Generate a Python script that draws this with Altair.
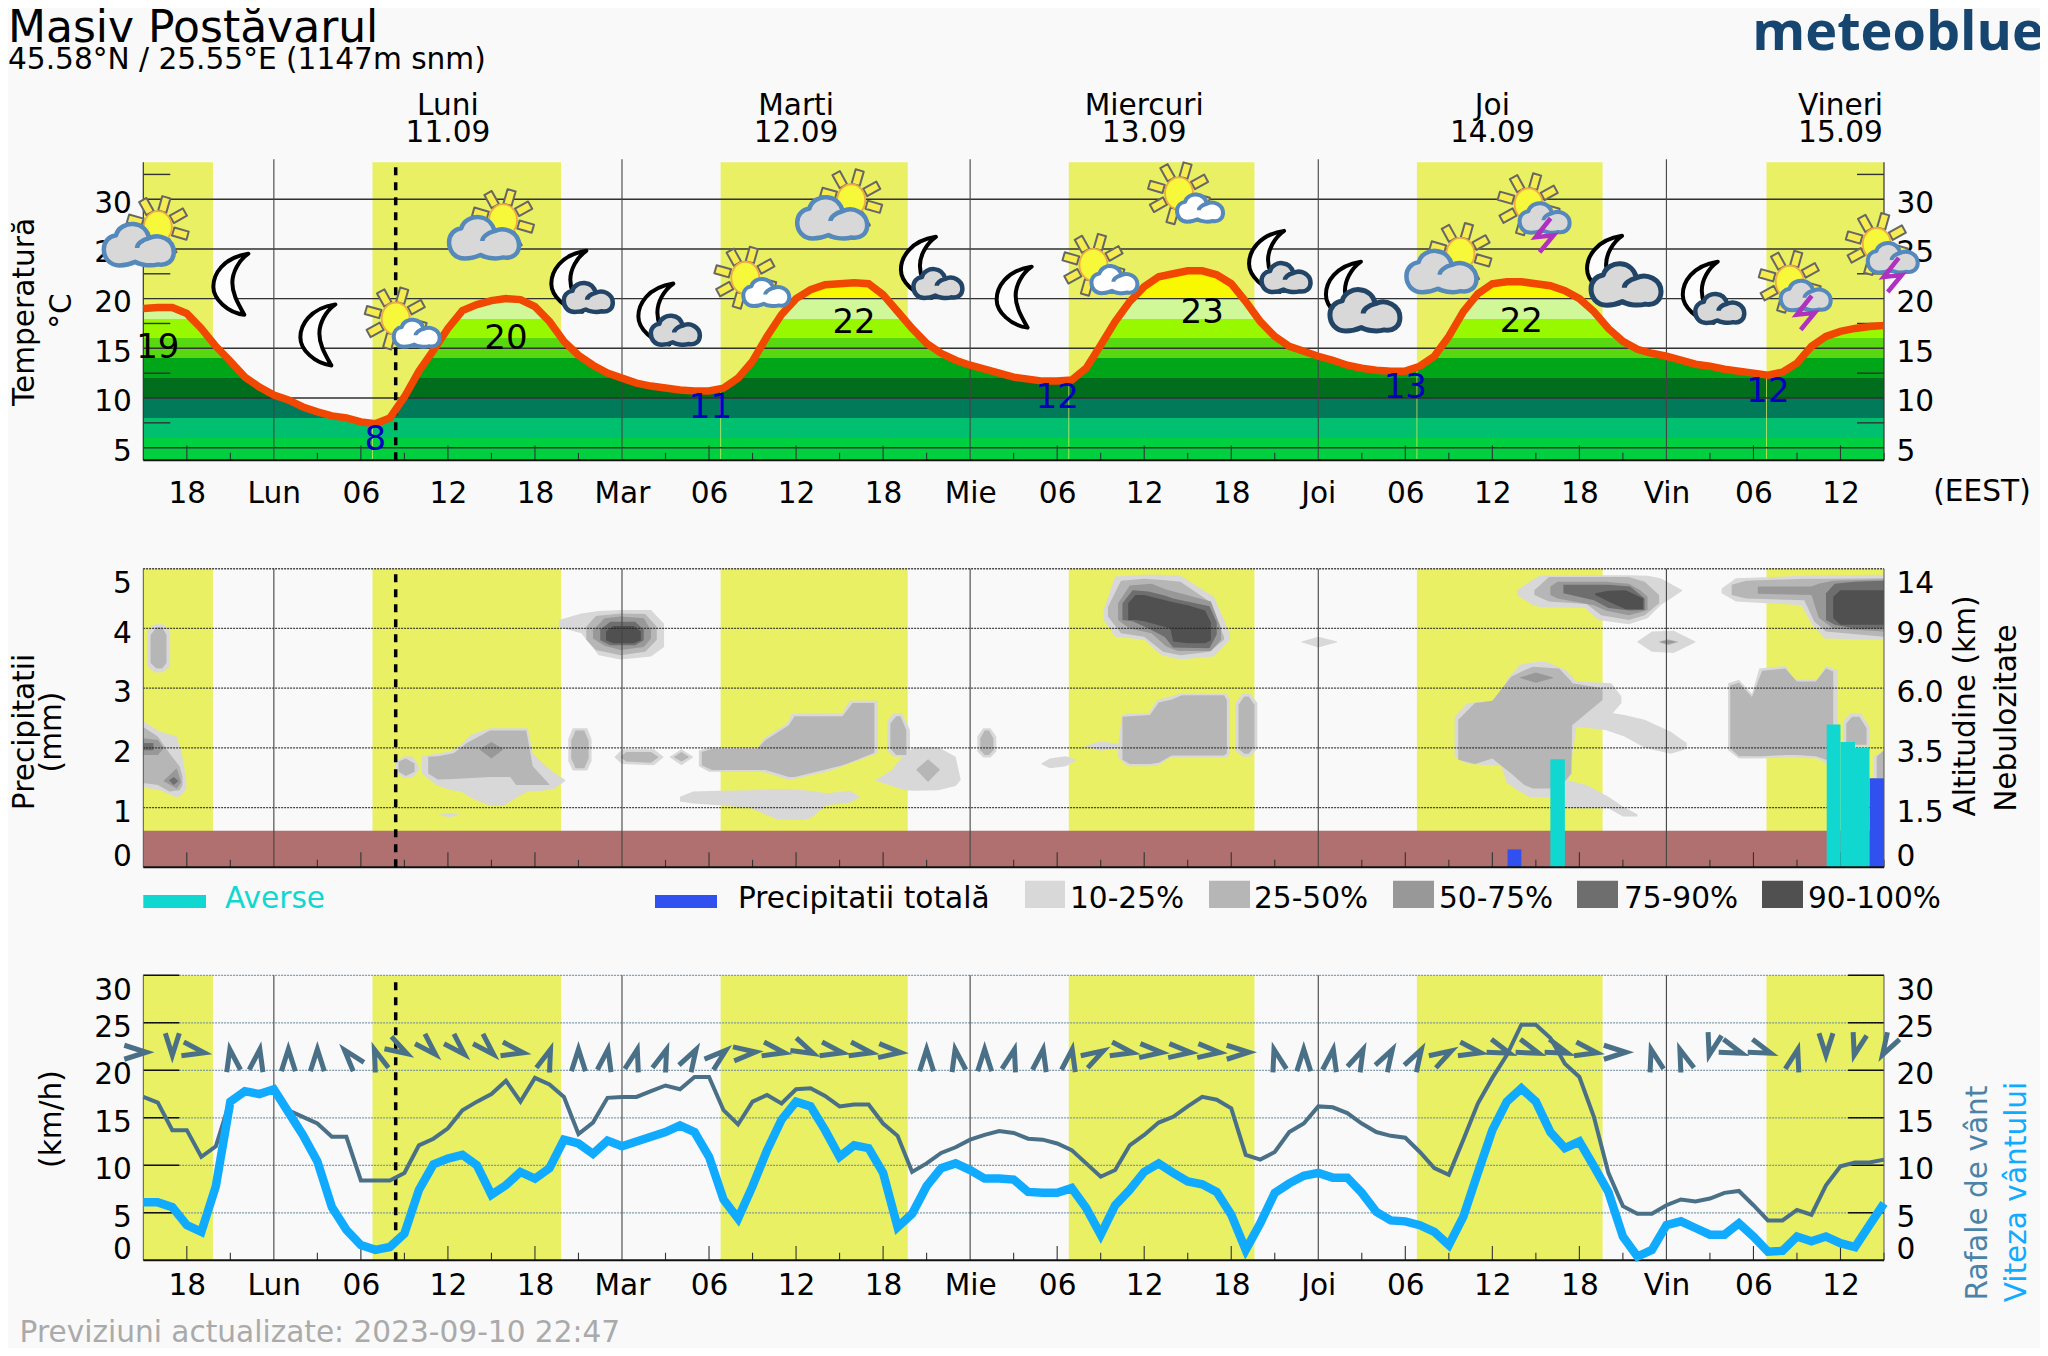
import json
import altair as alt
import pandas as pd

FONT = "DejaVu Sans"
BG = "#f9f9f9"
YELLOW = "#e9f064"
FS = 29.6

# ------------------------------------------------------------------ data
HOURS = list(range(-9, 112))
TEMP = [19.0,19.1,19.1,18.5,17,15.2,13.7,12.1,11.1,10.3,
        9.8,9.1,8.6,8.2,8,7.6,7.4,8,10.1,12.7,
        14.8,17,18.8,19.4,19.8,20,19.9,19.2,17.7,15.7,
        14.3,13.3,12.5,12,11.5,11.2,11,10.8,10.7,10.7,
        11,12,13.7,16.2,18.4,20,20.9,21.4,21.5,21.6,
        21.5,20.4,18.7,17,15.5,14.5,13.8,13.3,12.9,12.5,
        12.1,11.9,11.7,11.7,11.8,13,15.3,17.7,19.7,21.2,
        22.2,22.5,22.8,22.8,22.4,21.5,19.7,17.7,16.2,15.2,
        14.7,14.2,13.8,13.3,13,12.8,12.7,12.7,13.2,14.2,
        16.2,18.7,20.5,21.5,21.7,21.7,21.5,21.3,20.8,20,
        18.7,17,15.7,14.9,14.5,14.2,13.8,13.4,13.2,12.9,
        12.7,12.5,12.3,12.6,13.5,15.2,16.2,16.7,17,17.2,17.3]
GUST = [17.2,16.6,13.7,13.7,10.9,12,16.9,17.9,17.6,18,
        15.8,15.1,14.4,13,13,8.4,8.4,8.4,9.2,12.1,
        12.8,13.9,15.8,16.7,17.5,18.9,16.7,19.2,18.5,17.2,
        13.3,14.5,17.1,17.2,17.2,17.8,18.4,18,19.3,19.3,
        15.8,14.3,16.7,17.4,16.5,18,18.1,17.3,16.2,16.4,
        16.4,14.4,13.1,9.3,10.2,11.3,11.9,12.7,13.2,13.6,
        13.4,12.8,12.7,12.3,11.6,10.2,8.8,9.5,12.1,13.2,
        14.5,15.1,16.2,17.2,16.9,16,11.1,10.6,11.4,13.5,
        14.4,16.2,16.1,15.5,14.4,13.5,13.1,12.9,11.4,9.7,
        9,12.7,16.5,19.2,21.6,24.8,24.8,23.4,20.7,19.3,
        15.1,9.2,5.7,4.9,4.9,5.8,6.4,6.2,6.5,7.1,
        7.3,5.8,4.2,4.2,5.3,4.8,7.9,9.9,10.3,10.3,10.6]
WIND = [6.1,6.1,5.6,3.7,3,7.8,16.7,17.8,17.5,18,
        15.6,13.2,10.4,5.6,3.2,1.6,1.1,1.4,2.8,7.4,
        10.1,10.7,11.1,10,6.9,7.9,9.3,8.6,9.7,12.7,
        12.3,11.2,12.6,12,12.5,13,13.5,14.2,13.5,10.9,
        6.4,4.4,7.8,11.6,14.8,16.7,16.2,13.7,10.9,12.1,
        11.8,9.2,3.5,4.9,7.8,9.7,10.2,9.5,8.6,8.6,
        8.5,7.2,7.1,7.1,7.6,5.5,2.7,5.8,7.4,9.3,
        10.2,9.2,8.3,8,7.2,4.8,1.1,3.9,7.1,8.1,
        8.9,9.2,8.7,8.7,7.1,5.1,4.2,4.1,3.7,3,
        1.6,4.6,9.2,13.7,16.7,18.1,16.7,13.5,11.8,12.5,
        9.9,7.2,2.5,0.4,1.1,3.7,4.1,3.4,2.7,2.7,
        3.9,2.5,0.9,1,2.5,2,2.5,1.8,1.4,3.7,6]
ARROW_HOURS = list(range(-9, 112, 2))
ARROW_DIRS = [90,180,100,350,10,0,0,320,340,120,135,135,135,100,20,0,10,15,20,30,50,
              85,100,115,100,100,95,0,350,0,15,10,10,60,100,95,95,95,90,345,0,10,25,30,30,
              60,100,110,110,110,100,90,345,340,195,110,110,15,180,195,210]
ARROW_LEVEL = [21.9] * 61

DAY_START = [-9, 6.8, 30.8, 54.8, 78.8, 102.9]
DAY_END = [-4.2, 19.8, 43.7, 67.6, 91.6, 111]
SUNRISES = [6.8, 30.8, 54.8, 78.8, 102.9]
MIDNIGHTS = [0, 24, 48, 72, 96]
MINOR_TICKS = [h for h in range(-6, 112, 3) if h % 6]
MAJOR_TICKS = [h for h in range(-6, 112, 6) if h % 24]
NOW_HOUR = 8.4

AXIS_HOURS = list(range(-6, 112, 6))
AXIS_LABELS = ["18","Lun","06","12","18","Mar","06","12","18","Mie","06","12","18","Joi","06","12","18","Vin","06","12"]
DAY_HOURS = [12, 36, 60, 84, 108]
DAY_NAMES = ["Luni", "Marti", "Miercuri", "Joi", "Vineri"]
DAY_DATES = ["11.09", "12.09", "13.09", "14.09", "15.09"]

BAND_EDGES = [20, 18, 16, 14, 12, 10, 8, 6]
BAND_COLORS = ["#f8f800","#d0f898","#98f800","#58d810","#00a518","#006e1c","#007a58","#00c070","#00d040"]

MAX_HOURS = [-8, 16, 40, 64, 86]
MAX_POS = [15, 15.9, 17.5, 18.6, 17.6]
MAX_TEXT = ["19", "20", "22", "23", "22"]
MIN_HOURS = [7, 30.1, 54, 78, 103]
MIN_POS = [5.8, 9, 10, 11, 10.6]
MIN_TEXT = ["8", "11", "12", "13", "12"]

BIG_SUN_H = [-8, 15.8, 39.8, 81.8]
BIG_SUN_T = [27.2, 27.9, 29.9, 24.5]
SMALL_SUN_H = [8.4, 32.5, 56.5, 62.4]
SMALL_SUN_T = [18.0, 22.1, 23.4, 30.6]
STORM_H = [86.5, 104.5, 110.5]
STORM_T = [29.5, 21.7, 25.5]
MOON_H = [-3, 3, 51]
MOON_T = [21.4, 16.3, 20.1]
MOON_CLOUD_H = [20.3, 26.3, 44.4, 68.4, 98.3]
MOON_CLOUD_T = [21.7, 18.4, 23.1, 23.7, 20.6]
MOON_BIG_H = [73.7, 91.7]
MOON_BIG_T = [20.6, 23.2]

TOTAL_START = [85.05, 110]
TOTAL_END = [86, 111]
TOTAL_MM = [0.3, 1.49]
SHOWER_START = [88, 107.05, 108, 109]
SHOWER_END = [89, 108, 109, 110]
SHOWER_MM = [1.81, 2.39, 2.1, 2.0]

CLOUD_COLORS = ["#d8d8d8", "#b6b6b6", "#989898", "#6e6e6e", "#505050"]
CLOUD_LABELS = ["10-25%", "25-50%", "50-75%", "75-90%", "90-100%"]
# each blob: (hour, top, bottom) on the 0-5 panel scale
CLOUD_10 = [
 [(-8.7,3.97,3.36),(-8.2,4.07,3.26),(-7.7,4.07,3.26),(-7.15,3.97,3.36)],
 [(-9,2.44,1.34),(-7.83,2.27,1.29),(-6.7,2.19,1.17),(-6.35,1.91,1.21),(-6.03,1.46,1.32)],
 [(8.4,1.77,1.6),(9.0,1.86,1.49),(9.6,1.85,1.51),(10,1.69,1.63)],
 [(10.2,1.85,1.57),(11.2,1.9,1.38),(12.2,1.94,1.29),(12.9,2.05,1.27),(13.6,2.22,1.16),(14.9,2.33,1.03),(15.8,2.33,1.03),(16.7,2.33,1.16),(17.5,2.33,1.27),(17.85,1.91,1.27),(18.75,1.69,1.29),(19.4,1.57,1.32),(20.1,1.46,1.45)],
 [(11.4,.88,.875),(12.1,.915,.84),(12.8,.88,.875)],
 [(20.3,2.15,1.78),(20.6,2.33,1.62),(21.6,2.33,1.62),(21.9,2.15,1.78)],
 [(19.65,4.14,4.02),(21.2,4.25,3.92),(22.4,4.29,3.55),(23.9,4.31,3.48),(26,4.31,3.53),(26.9,4.08,3.69)],
 [(23.5,1.85,1.84),(24,1.975,1.73),(26.2,1.975,1.71),(26.85,1.85,1.84)],
 [(27.3,1.85,1.84),(28.1,1.975,1.71),(28.9,1.85,1.84)],
 [(29.3,1.95,1.69),(30,2.01,1.6),(33.4,2.01,1.6),(33.8,2.16,1.59),(35.4,2.41,1.47),(35.7,2.57,1.47),(38.1,2.58,1.6),(39.2,2.58,1.69),(39.7,2.79,1.74),(41.65,2.79,1.91)],
 [(42.3,2.44,1.96),(42.7,2.58,1.85),(43.3,2.58,1.85),(43.85,2.3,1.85)],
 [(41.5,1.46,1.45),(42.6,1.63,1.36),(43.5,1.91,1.29),(44.2,2.01,1.28),(45.8,2.01,1.29),(47,1.85,1.36),(47.35,1.47,1.46)],
 [(28,1.18,1.1),(28.9,1.27,1.07),(30.7,1.28,1.04),(32.9,1.29,.99),(34.7,1.31,.8),(36.5,1.29,.79),(37,1.28,.82),(38.1,1.24,1.04),(39.7,1.28,1.08),(40.4,1.18,1.17)],
 [(48.5,2.19,1.94),(48.9,2.33,1.84),(49.4,2.33,1.84),(49.8,2.19,1.94)],
 [(52.9,1.74,1.73),(53.5,1.82,1.66),(54.6,1.86,1.69),(55.3,1.8,1.79)],
 [(55.9,2.03,2.02),(57,2.11,1.95),(58.2,2.07,1.99)],
 [(58.2,2.02,1.85),(58.46,2.55,1.77),(58.9,2.57,1.69),(60.3,2.58,1.69),(60.9,2.8,1.7),(61.8,2.86,1.84),(62.5,2.91,1.84),(65.7,2.91,1.84),(65.9,2.8,1.91)],
 [(66.3,2.75,1.96),(66.8,2.91,1.85),(67.3,2.91,1.85),(67.8,2.75,1.99)],
 [(57.2,4.31,4.14),(58,4.87,3.86),(60,4.9,3.81),(61.2,4.9,3.55),(62.5,4.88,3.48),(64.8,4.53,3.53),(65.9,3.92,3.81)],
 [(70.85,3.78,3.77),(72,3.86,3.68),(73.3,3.78,3.77)],
 [(85.7,4.64,4.56),(86.8,4.82,4.39),(87.3,4.88,4.36),(90.4,4.89,4.34),(91.3,4.89,4.14),(93.4,4.89,4.07),(94.7,4.88,4.17),(95.6,4.84,4.39),(97.1,4.64,4.63)],
 [(94,3.78,3.77),(95,3.95,3.61),(96.5,3.96,3.59),(98,3.78,3.77)],
 [(81.4,2.52,1.85),(82.3,2.75,1.73),(84.6,2.79,1.7),(85,3.14,1.41),(85.9,3.39,1.27),(86.6,3.43,1.17),(87.7,3.44,1.17),(89.1,3.3,1.18),(89.8,3.11,2.35),(92.2,3.08,2.55),(92.9,2.86,2.75)],
 [(89.5,2.42,2.36),(91.8,2.6,2.3),(93.1,2.55,2.19),(94.5,2.47,2.0),(96.3,2.27,1.9),(97.4,2.08,1.98)],
 [(89,1.46,.99),(90.5,1.38,.99),(92,1.18,.99),(93,1.02,.85),(94,.89,.85)],
 [(99.8,4.67,4.59),(100.8,4.84,4.45),(105.3,4.88,4.39),(106,4.89,4.08),(106.9,4.89,3.83),(111,4.9,3.81)],
 [(100.25,3.08,1.96),(101,3.14,1.82),(101.9,2.9,1.82),(102.4,3.33,1.82),(104.2,3.37,1.84),(104.8,3.14,1.84),(106.4,3.14,1.82),(107,3.37,1.74),(107.8,3.3,1.74)],
 [(108.2,2.44,2.08),(108.7,2.58,2.02),(109.4,2.58,2.02),(110,2.35,2.02)],
 [(110.3,1.85,1.49),(111,1.96,1.49)],
]
CLOUD_25 = [
 [(-8.5,3.89,3.42),(-8.1,4.02,3.33),(-7.7,4.02,3.33),(-7.4,3.89,3.42)],
 [(-9,2.35,1.41),(-8,2.19,1.38),(-7.2,1.91,1.27),(-6.5,1.69,1.29),(-6.3,1.52,1.38)],
 [(8.6,1.77,1.6),(9.1,1.82,1.53),(9.7,1.74,1.6)],
 [(10.64,1.85,1.57),(11.3,1.86,1.47),(12.4,1.91,1.48),(13.3,2.08,1.49),(14.9,2.29,1.51),(16.3,2.29,1.51),(16.7,2.29,1.38),(17.4,2.29,1.38),(17.85,1.69,1.38),(19,1.385,1.38)],
 [(20.5,2.12,1.82),(20.8,2.29,1.66),(21.4,2.29,1.66),(21.7,2.12,1.82)],
 [(21.54,4.03,3.81),(22.2,4.21,3.64),(23.9,4.25,3.55),(25.6,4.24,3.61),(26.4,4.03,3.81)],
 [(23.9,1.85,1.84),(24.3,1.93,1.77),(26,1.93,1.75),(26.5,1.85,1.84)],
 [(27.6,1.85,1.84),(28.1,1.93,1.77),(28.6,1.85,1.84)],
 [(29.5,1.93,1.71),(30.2,1.98,1.63),(33.3,1.98,1.63),(33.9,2.13,1.63),(35.5,2.38,1.51),(35.9,2.53,1.51),(38.1,2.53,1.64),(39.2,2.53,1.71),(39.9,2.75,1.77),(41.4,2.75,1.92)],
 [(42.5,2.41,1.99),(42.9,2.53,1.88),(43.2,2.53,1.88),(43.6,2.3,1.88)],
 [(44.3,1.64,1.63),(45.1,1.81,1.43),(45.9,1.64,1.63)],
 [(48.7,2.16,1.96),(49,2.29,1.88),(49.3,2.29,1.88),(49.6,2.16,1.96)],
 [(58.5,2.52,1.8),(59,2.53,1.73),(60.4,2.55,1.73),(61,2.76,1.75),(61.9,2.81,1.87),(62.6,2.88,1.87),(65.5,2.88,1.87),(65.7,2.8,1.91)],
 [(66.5,2.72,1.99),(66.9,2.86,1.9),(67.2,2.86,1.9),(67.6,2.72,2.02)],
 [(57.5,4.36,4.2),(58.4,4.8,3.92),(60,4.83,3.86),(61.3,4.81,3.61),(62.5,4.78,3.55),(64.5,4.45,3.61),(65.5,3.86,3.81)],
 [(86.9,4.64,4.56),(87.9,4.86,4.45),(90.5,4.86,4.41),(91.5,4.86,4.22),(93.4,4.86,4.14),(94.5,4.78,4.22),(95.5,4.56,4.42)],
 [(95.5,3.78,3.77),(96.1,3.82,3.72),(96.8,3.78,3.77)],
 [(81.65,2.47,1.8),(82.8,2.75,1.73),(84,2.79,1.82),(85.3,3.19,1.57),(86.2,3.3,1.38),(86.8,3.36,1.32),(88.6,3.33,1.32),(89.45,3.11,1.57),(89.5,3.08,2.38),(91.6,3,2.8)],
 [(100.5,4.73,4.56),(101.5,4.8,4.5),(105.5,4.83,4.47),(106.2,4.83,4.11),(107,4.83,3.95),(111,4.84,3.86)],
 [(100.4,3.05,1.99),(101,3.09,1.86),(101.9,2.85,1.86),(102.6,3.29,1.86),(104.2,3.33,1.88),(105,3.11,1.88),(106.3,3.11,1.86),(107,3.33,1.8),(107.5,3.28,1.8)],
 [(108.4,2.41,2.08),(108.8,2.52,2.05),(109.3,2.52,2.05),(109.8,2.33,2.05)],
 [(110.5,1.85,1.49),(111,1.96,1.49)],
]
CLOUD_50 = [
 [(-9,2.16,1.88),(-8,2.13,1.88),(-7.6,2.0,1.99)],
 [(-7.6,1.45,1.44),(-6.7,1.66,1.32),(-6.4,1.43,1.42)],
 [(14.2,1.98,1.97),(15,2.1,1.82),(15.8,1.98,1.97)],
 [(22,3.97,3.83),(22.8,4.17,3.71),(23.9,4.2,3.64),(25.5,4.17,3.69),(26,3.97,3.83)],
 [(58.2,4.42,4.14),(59,4.72,4),(60.5,4.75,3.92),(61.5,4.65,3.7),(62.3,4.6,3.62),(64.6,4.45,3.62),(65.3,4.0,3.81)],
 [(88,4.7,4.56),(88.5,4.78,4.5),(91,4.78,4.39),(91.8,4.78,4.3),(93.4,4.75,4.22),(94.2,4.64,4.27),(94.7,4.53,4.31)],
 [(85.9,3.18,3.17),(87,3.26,3.09),(88.2,3.18,3.17)],
 [(102.3,4.7,4.58),(106,4.7,4.56),(106.5,4.75,4.18),(107.5,4.8,4),(111,4.82,3.95)],
 [(95.6,3.78,3.77),(96.1,3.8,3.74),(96.6,3.78,3.77)],
]
CLOUD_75 = [
 [(-9,2.08,1.96),(-8.3,2.08,1.96)],
 [(-7.2,1.46,1.45),(-6.9,1.51,1.38),(-6.6,1.45,1.44)],
 [(22.5,3.98,3.8),(23.2,4.11,3.72),(24.9,4.11,3.72),(25.5,3.98,3.8)],
 [(58.5,4.42,4.14),(59.2,4.64,4.12),(60.3,4.62,4.0),(61.4,4.55,3.86),(62,4.5,3.68),(64.5,4.37,3.67),(65,4.1,3.9)],
 [(88.9,4.73,4.59),(91,4.73,4.47),(92,4.73,4.34),(93.5,4.7,4.3),(94.5,4.5,4.31)],
 [(107,4.59,4.14),(107.6,4.75,4.06),(109,4.78,4),(111,4.8,4)],
]
CLOUD_90 = [
 [(22.9,3.95,3.8),(23.4,4.04,3.75),(24.8,4.04,3.75),(25.3,3.95,3.8)],
 [(58.9,4.42,4.14),(59.4,4.56,4.14),(60,4.56,4.12),(61.8,4.45,4.0),(62,4.44,3.78),(63,4.39,3.75),(64.2,4.3,3.75),(64.6,4.1,3.8)],
 [(91.1,4.59,4.56),(92,4.63,4.45),(93.2,4.64,4.32),(94.4,4.5,4.32)],
 [(107.5,4.53,4.17),(108,4.64,4.06),(111,4.64,4.06)],
]
assert len(TEMP) == len(GUST) == len(WIND) == 121
assert len(ARROW_DIRS) == len(ARROW_HOURS)

# ------------------------------------------------------------------ scales
W, H = 2032, 1340
XL, XR = 135.3, 1876
XS = alt.Scale(domain=[-9, 111], range=[XL, XR], nice=False, zero=False)
T_MIN, T_MAX = 3.73, 33.72
YT = alt.Scale(domain=[T_MIN, T_MAX], range=[452.3, 154.3], nice=False, zero=False)
YP = alt.Scale(domain=[0, 5], range=[859.3, 560.7], nice=False, zero=False)
YW = alt.Scale(domain=[0, 30], range=[1252.3, 967.3], nice=False, zero=False)


def fx(field="h:Q", axis=None):
    return alt.X(field, scale=XS, axis=axis)


def lab_expr(keys, labels):
    return json.dumps({str(k): l for k, l in zip(keys, labels)}) + "[datum.value]"


def x_axis(offset, padding):
    return alt.Axis(orient="bottom", offset=offset, values=AXIS_HOURS, title=None, domain=False, ticks=False,
                    grid=False, labelFont=FONT, labelFontSize=FS, labelColor="black", labelPadding=padding,
                    labelExpr=lab_expr(AXIS_HOURS, AXIS_LABELS), labelOverlap=False, labelBound=False,
                    labelFlush=False, tickSize=0)


def y_axis(orient, values, labels=None, flush=False, off=4, top_off=None):
    offset = -XL if orient == "left" else -(W - XR)
    kw = dict(labelExpr=lab_expr(values, labels)) if labels else {}
    label_off = off if top_off is None else {
        "condition": {"test": f"datum.value == {max(values)}", "value": top_off}, "value": off}
    return alt.Axis(orient=orient, offset=offset, values=values, title=None, domain=False, ticks=False,
                    grid=False, labelFont=FONT, labelFontSize=FS, labelColor="black", labelPadding=12,
                    labelOverlap=False, labelBound=False, labelFlush=flush, labelOffset=label_off, tickSize=0, **kw)


def hrules(values, ys, x0=-9, x1=111, axis=None, xaxis=None, **style):
    d = pd.DataFrame({"v": values, "h": [x0] * len(values), "h2": [x1] * len(values)})
    return alt.Chart(d).mark_rule(**style).encode(
        x=alt.X("h:Q", scale=XS, axis=xaxis), x2="h2:Q", y=alt.Y("v:Q", scale=ys, axis=axis))


def vrules(hours, ys, y0, y1, **style):
    d = pd.DataFrame({"h": hours})
    return alt.Chart(d).mark_rule(**style).encode(
        x=fx(), y=alt.Y(datum=y0, scale=ys, axis=None), y2=alt.Y2(datum=y1))


def day_rects(ys, y0, y1):
    d = pd.DataFrame({"h": DAY_START, "h2": DAY_END})
    return alt.Chart(d).mark_rect(color=YELLOW).encode(
        x=fx(), x2="h2:Q", y=alt.Y(datum=y0, scale=ys, axis=None), y2=alt.Y2(datum=y1))


def text(t, px, py, size=FS, color="black", align="left", angle=0, baseline="alphabetic", weight=None, font=FONT):
    kw = dict(fontWeight=weight) if weight else {}
    return alt.Chart(pd.DataFrame({"t": [t]})).mark_text(
        font=font, fontSize=size, color=color, align=align, angle=angle, baseline=baseline, **kw
    ).encode(x=alt.value(px - 8), y=alt.value(py - 8), text="t:N")


def swatch(px0, px1, py0, py1, color):
    return alt.Chart(pd.DataFrame({"k": [color]})).mark_rect(color=color).encode(
        x=alt.value(px0 - 8), x2=alt.value(px1 - 8), y=alt.value(py0 - 8), y2=alt.value(py1 - 8))


# ------------------------------------------------------------------ icon shapes (pixel design / 100, size 40000)
def P(cmds):
    out = []
    for c in cmds:
        if isinstance(c, str):
            out.append(c)
        else:
            out.append(f"{c[0] / 100:.4f},{c[1] / 100:.4f}")
    return " ".join(out)


def cloud_path(cx, cy, w):
    s = w / 2
    pts = [
        ("M", [(-.55, .58)]),
        ("C", [(-.85, .58), (-1, .35), (-1, .12)]),
        ("C", [(-1, -.1), (-.85, -.25), (-.65, -.28)]),
        ("C", [(-.6, -.5), (-.35, -.62), (-.15, -.6)]),
        ("C", [(.1, -.58), (.25, -.4), (.3, -.2)]),
        ("C", [(.6, -.35), (1, -.15), (1, .2)]),
        ("C", [(1, .45), (.8, .6), (.55, .55)]),
        ("C", [(.3, .62), (0, .55), (-.1, .48)]),
        ("C", [(-.25, .55), (-.4, .58), (-.55, .58)]),
    ]
    cmds = []
    for k, ps in pts:
        cmds.append(k)
        cmds += [(cx + a * s, cy + b * s) for a, b in ps]
    cmds.append("Z")
    hook = [("M", [(.3, -.2)]), ("C", [(.08, -.15), (-.05, -.02), (-.05, .08)])]
    for k, ps in hook:
        cmds.append(k)
        cmds += [(cx + a * s, cy + b * s) for a, b in ps]
    return P(cmds)


def ellipse_path(rx, ry):
    k = .5523
    return P(["M", (rx, 0), "C", (rx, k * ry), (k * rx, ry), (0, ry), "C", (-k * rx, ry), (-rx, k * ry), (-rx, 0),
              "C", (-rx, -k * ry), (-k * rx, -ry), (0, -ry), "C", (k * rx, -ry), (rx, -k * ry), (rx, 0), "Z"])


RAY_TURNS = [(.2756, -.9613), (.8746, -.4848), (.9613, .2756), (.4848, .8746),
             (-.2756, .9613), (-.8746, .4848), (-.9613, -.2756), (-.4848, -.8746)]


def rays_path():
    cmds = []
    for ca, cb in RAY_TURNS:
        nx, ny = -cb, ca
        a0, a1 = 16, 31
        hw = 4.2
        cmds += ["M", (ca * a0 + nx * hw, cb * a0 + ny * hw), "L", (ca * a1 + nx * hw, cb * a1 + ny * hw),
                 "L", (ca * a1 - nx * hw, cb * a1 - ny * hw), "L", (ca * a0 - nx * hw, cb * a0 - ny * hw), "Z"]
    return P(cmds)


MOON_PATH = P(["M", (18, -31), "C", (-8, -27), (-17, -10), (-17, 2), "C", (-17, 14), (-3, 28), (14, 30),
               "C", (6, 16), (2, 8), (2, -2), "C", (2, -12), (8, -24), (18, -31), "Z"])
BOLT_PATH = P(["M", (22, 14), "L", (7, 33), "L", (25, 31), "L", (11, 48)])
CHEVRON = P(["M", (-7, 19), "L", (0, -3), "L", (7, 19)])


def icon(hs, ts, shape, fill, stroke, sw):
    d = pd.DataFrame({"h": hs, "t": ts})
    return alt.Chart(d).mark_point(shape=shape, size=40000, filled=True, fill=fill, stroke=stroke,
                                   strokeWidth=sw, opacity=1, strokeJoin="round").encode(
        x=fx(), y=alt.Y("t:Q", scale=YT, axis=None))


SKY_BLUE, NAVY = "#5588bb", "#224466"
sun_h = BIG_SUN_H + SMALL_SUN_H + STORM_H
sun_t = BIG_SUN_T + SMALL_SUN_T + STORM_T
icons = [
    icon(sun_h, sun_t, rays_path(), "#f6ec50", "#666666", 2),
    icon(sun_h, sun_t, ellipse_path(14, 16), "#f8f83a", "#eeaa44", 1.8),
    icon(BIG_SUN_H, BIG_SUN_T, cloud_path(-19, 18, 70), "#d8d8d8", SKY_BLUE, 4.5),
    icon(SMALL_SUN_H, SMALL_SUN_T, cloud_path(21, 15, 46), "#ffffff", SKY_BLUE, 4),
    icon(STORM_H, STORM_T, cloud_path(16, 14, 50), "#d8d8d8", SKY_BLUE, 4),
    alt.Chart(pd.DataFrame({"h": STORM_H, "t": STORM_T})).mark_point(
        shape=BOLT_PATH, size=40000, filled=False, stroke="#b030c0", strokeWidth=4.5, opacity=1).encode(
        x=fx(), y=alt.Y("t:Q", scale=YT, axis=None)),
    icon(MOON_H + MOON_CLOUD_H + MOON_BIG_H, MOON_T + MOON_CLOUD_T + MOON_BIG_T, MOON_PATH, "#fdfdfd", "#000000", 4),
    icon(MOON_CLOUD_H, MOON_CLOUD_T, cloud_path(20, 16, 49), "#d8d8d8", NAVY, 4.5),
    icon(MOON_BIG_H, MOON_BIG_T, cloud_path(22, 18, 70), "#d8d8d8", NAVY, 5),
]

# ------------------------------------------------------------------ panel 1: temperature
series = pd.DataFrame({"h": HOURS, "t": TEMP, "g": GUST, "w": WIND})
top = max(TEMP)


def off_frac(v):
    return (top - v) / (top - T_MIN)


stops = [alt.GradientStop(color=BAND_COLORS[0], offset=0)]
for i, e in enumerate(BAND_EDGES):
    stops.append(alt.GradientStop(color=BAND_COLORS[i], offset=off_frac(e)))
    stops.append(alt.GradientStop(color=BAND_COLORS[i + 1], offset=off_frac(e)))
stops.append(alt.GradientStop(color=BAND_COLORS[-1], offset=1))

temp_area = alt.Chart(series).mark_area(
    color=alt.LinearGradient(gradient="linear", stops=stops, x1=0, x2=0, y1=0, y2=1)
).encode(x=fx(), y=alt.Y("t:Q", scale=YT, axis=None), y2=alt.Y2(datum=T_MIN))

sunrise_df = pd.DataFrame({"h": SUNRISES, "t": [7.5, 11, 11.9, 13.1, 12.4]})
sunrise_lines = alt.Chart(sunrise_df).mark_rule(color="#e8f060", strokeWidth=1, opacity=.7).encode(
    x=fx(), y=alt.Y("t:Q", scale=YT, axis=None), y2=alt.Y2(datum=T_MIN))

temp_vals = [5, 10, 15, 20, 25, 30]
panel1 = [
    day_rects(YT, T_MIN, T_MAX),
    temp_area,
    sunrise_lines,
    hrules(temp_vals, YT, color="#333333", strokeWidth=1.4, axis=y_axis("left", temp_vals),
           xaxis=x_axis(-(H - 452.3), 19)),
    hrules(temp_vals, YT, color="#333333", strokeWidth=0.1, axis=y_axis("right", temp_vals)),
    hrules([7.5, 12.5, 17.5, 22.5, 32.5], YT, x0=-9, x1=-7.14, color="#333333", strokeWidth=1.4),
    hrules([7.5, 12.5, 17.5, 22.5, 32.5], YT, x0=109.14, x1=111, color="#333333", strokeWidth=1.4),
    vrules(MIDNIGHTS, YT, T_MIN, T_MAX + .3, color="#444444", strokeWidth=1.1),
    vrules(MAJOR_TICKS, YT, T_MIN, T_MIN + 1.5, color="#333333", strokeWidth=1.1),
    vrules(MINOR_TICKS, YT, T_MIN, T_MIN + .75, color="#333333", strokeWidth=1.1),
    vrules([-9, 111], YT, T_MIN, T_MAX, color="#333333", strokeWidth=1.2),
    hrules([T_MIN], YT, color="#111111", strokeWidth=2),
    vrules([NOW_HOUR], YT, T_MIN, T_MAX, color="black", strokeWidth=3.5, strokeDash=[8, 7]),
    alt.Chart(series).mark_line(color="#f04800", strokeWidth=7.5, interpolate="linear").encode(
        x=fx(), y=alt.Y("t:Q", scale=YT, axis=None)),
    alt.Chart(pd.DataFrame({"h": MAX_HOURS, "t": MAX_POS, "s": MAX_TEXT})).mark_text(
        font=FONT, fontSize=34, color="black").encode(x=fx(), y=alt.Y("t:Q", scale=YT, axis=None), text="s:N"),
    alt.Chart(pd.DataFrame({"h": MIN_HOURS, "t": MIN_POS, "s": MIN_TEXT})).mark_text(
        font=FONT, fontSize=34, color="#0000c0").encode(x=fx(), y=alt.Y("t:Q", scale=YT, axis=None), text="s:N"),
] + icons


# ------------------------------------------------------------------ panel 2: clouds and precipitation
def cloud_layer(blobs, color):
    rows = []
    for i, blob in enumerate(blobs):
        for h, hi, lo in blob:
            rows.append({"id": i, "h": h, "hi": hi, "lo": lo})
    return alt.Chart(pd.DataFrame(rows)).mark_area(color=color, interpolate="linear").encode(
        x=fx(), y=alt.Y("hi:Q", scale=YP, axis=None), y2="lo:Q", detail="id:N")


def bars(starts, ends, mm, fill):
    d = pd.DataFrame({"h": starts, "h2": ends, "v": mm})
    return alt.Chart(d).mark_rect(color=fill).encode(
        x=fx(), x2="h2:Q", y=alt.Y("v:Q", scale=YP, axis=None), y2=alt.Y2(datum=0))


left_vals = [0, 1, 2, 3, 4, 5]
panel2 = [
    day_rects(YP, 0, 5),
    cloud_layer(CLOUD_10, CLOUD_COLORS[0]),
    cloud_layer(CLOUD_25, CLOUD_COLORS[1]),
    cloud_layer(CLOUD_50, CLOUD_COLORS[2]),
    cloud_layer(CLOUD_75, CLOUD_COLORS[3]),
    cloud_layer(CLOUD_90, CLOUD_COLORS[4]),
    hrules(left_vals[1:], YP, color="#222222", strokeWidth=1.4, strokeDash=[1.5, 1.5],
           axis=y_axis("left", left_vals, flush=True, off=4.6, top_off=0.7)),
    hrules(left_vals[1:], YP, color="#222222", strokeWidth=0.1,
           axis=y_axis("right", left_vals, ["0", "1.5", "3.5", "6.0", "9.0", "14"], flush=True, off=4.6, top_off=0.7)),
    alt.Chart(pd.DataFrame({"h": [-9], "h2": [111]})).mark_rect(color="#b07070").encode(
        x=fx(), x2="h2:Q", y=alt.Y(datum=0, scale=YP, axis=None), y2=alt.Y2(datum=0.61)),
    vrules(MIDNIGHTS, YP, 0, 5, color="#444444", strokeWidth=1.1),
    vrules(MAJOR_TICKS, YP, 0, .25, color="#333333", strokeWidth=1.1),
    vrules(MINOR_TICKS, YP, 0, .125, color="#333333", strokeWidth=1.1),
    vrules([-9, 111], YP, 0, 5, color="#555555", strokeWidth=1),
    bars(TOTAL_START, TOTAL_END, TOTAL_MM, "#3050f0"),
    bars(SHOWER_START, SHOWER_END, SHOWER_MM, "#10d8d0"),
    hrules([0], YP, color="#111111", strokeWidth=2),
    vrules([NOW_HOUR], YP, 0, 5, color="black", strokeWidth=3.5, strokeDash=[8, 7]),
    swatch(143.3, 206, 895, 908, "#10d8d0"),
    text("Averse", 225, 907.7, color="#10d8d0"),
    swatch(655, 717, 895, 908, "#3050f0"),
    text("Precipitatii totală", 738, 907.7),
]
for px0, px1, tx, c, lbl in zip([1025, 1209, 1393, 1577, 1762], [1065, 1250, 1434, 1618, 1803],
                                [1070, 1254, 1439, 1624, 1808], CLOUD_COLORS, CLOUD_LABELS):
    panel2 += [swatch(px0, px1, 880.7, 908, c), text(lbl, tx, 907.7)]

# ------------------------------------------------------------------ panel 3: wind
wind_vals = [0, 5, 10, 15, 20, 25, 30]
arrows = pd.DataFrame({"h": ARROW_HOURS, "v": ARROW_LEVEL, "a": ARROW_DIRS})
panel3 = [
    day_rects(YW, 0, 30),
    hrules(wind_vals[1:], YW, color="#6a8aa0", strokeWidth=1.3, strokeDash=[1.5, 1.5],
           axis=y_axis("left", wind_vals, flush=True, off=4.6, top_off=0.7), xaxis=x_axis(-(H - 1252.3), 11)),
    hrules(wind_vals[1:], YW, color="#6a8aa0", strokeWidth=0.1,
           axis=y_axis("right", wind_vals, flush=True, off=4.6, top_off=0.7)),
    hrules(wind_vals[1:], YW, x0=-9, x1=-6.52, color="#111111", strokeWidth=1.5),
    hrules(wind_vals[1:], YW, x0=108.52, x1=111, color="#111111", strokeWidth=1.5),
    vrules(MIDNIGHTS, YW, 0, 30, color="#444444", strokeWidth=1.1),
    vrules(MAJOR_TICKS, YW, 0, 1.5, color="#333333", strokeWidth=1.1),
    vrules(MINOR_TICKS, YW, 0, .8, color="#333333", strokeWidth=1.1),
    vrules([-9, 111], YW, 0, 30, color="#555555", strokeWidth=1),
    hrules([0], YW, color="#111111", strokeWidth=2),
    vrules([NOW_HOUR], YW, 0, 30, color="black", strokeWidth=3.5, strokeDash=[8, 7]),
    alt.Chart(arrows).mark_point(shape=CHEVRON, size=40000, filled=False, stroke="#4a7088", strokeWidth=5,
                                 opacity=1).encode(
        x=fx(), y=alt.Y("v:Q", scale=YW, axis=None), angle=alt.Angle("a:Q", scale=None)),
    alt.Chart(series).mark_line(color="#4a7088", strokeWidth=4).encode(
        x=fx(), y=alt.Y("g:Q", scale=YW, axis=None)),
    alt.Chart(series).mark_line(color="#10aaff", strokeWidth=8.5).encode(
        x=fx(), y=alt.Y("w:Q", scale=YW, axis=None)),
]

# ------------------------------------------------------------------ headers and side titles
days = pd.DataFrame({"h": DAY_HOURS, "n": DAY_NAMES, "d": DAY_DATES})
decor = [
    text("Masiv Postăvarul", 8, 42, size=44),
    text("45.58°N / 25.55°E (1147m snm)", 8, 69),
    text("meteoblue", 2044, 50, size=54, color="#164670", align="right", weight=700, font="Open Sans"),
    alt.Chart(days).mark_text(font=FONT, fontSize=FS, color="black").encode(
        x=fx(), y=alt.value(106 - 8), text="n:N"),
    alt.Chart(days).mark_text(font=FONT, fontSize=FS, color="black").encode(
        x=fx(), y=alt.value(133 - 8), text="d:N"),
    text("(EEST)", 1982, 501, align="center"),
    text("Temperatură", 25, 312, angle=270, align="center", baseline="middle"),
    text("°C", 62, 311, angle=270, align="center", baseline="middle"),
    text("Precipitatii", 25, 732, angle=270, align="center", baseline="middle"),
    text("(mm)", 52, 732, angle=270, align="center", baseline="middle"),
    text("(km/h)", 52, 1119, angle=270, align="center", baseline="middle"),
    text("Altitudine (km)", 1966, 706, angle=270, align="center", baseline="middle"),
    text("Nebulozitate", 2007, 718, angle=270, align="center", baseline="middle"),
    text("Rafale de vânt", 1978, 1193, angle=270, align="center", baseline="middle", color="#4b83a8"),
    text("Viteza vântului", 2017, 1192, angle=270, align="center", baseline="middle", color="#10aaff"),
    text("Previziuni actualizate: 2023-09-10 22:47", 19.6, 1341.7, color="#aaaaaa"),
]

chart = alt.layer(*(panel1 + panel2 + panel3 + decor)).resolve_scale(
    x="independent", y="independent"
).resolve_axis(x="independent", y="independent").properties(
    width=W, height=H, padding=0, background=BG,
    autosize=alt.AutoSizeParams(type="none")
).configure_view(strokeWidth=0)

chart.save("out.html", embed_options={"renderer": "svg", "actions": False})
